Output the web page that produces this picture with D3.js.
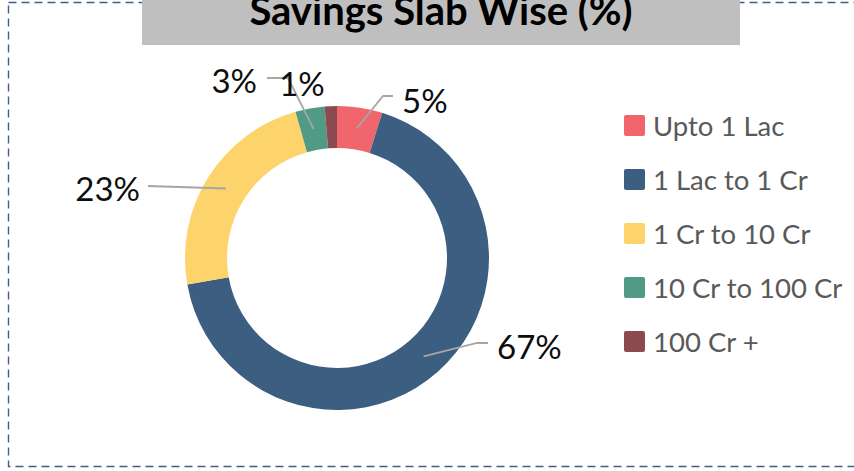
<!DOCTYPE html>
<html>
<head>
<meta charset="utf-8">
<script src="https://cdn.jsdelivr.net/npm/d3@7"></script>
<style>
  body { margin: 0; background: #fff; }
  svg { display: block; }
</style>
</head>
<body>
<div id="chart"></div>
<script>
// data
const categories = ['Upto 1 Lac', '1 Lac to 1 Cr', '1 Cr to 10 Cr', '10 Cr to 100 Cr', '100 Cr +'];
const values = [4.8, 67.4, 23.4, 3.1, 1.3];
const colors = ['#F1666D', '#3B5E81', '#FDD36B', '#519A86', '#8B4A4F'];
const titleText = 'Savings Slab Wise (%)';

const width = 854, height = 471;
const cx = 337, cy = 258;
const outerR = 152, innerR = 110;

// label layout, relative to the donut centre: text pos, anchor, elbow, line end
const labelLayout = [
  {tx: 65, ty: -158, anchor: 'start', elbow: [46, -162], end: [56, -162]},
  {tx: 160, ty: 88, anchor: 'start', elbow: [140, 85], end: [151, 85]},
  {tx: -197, ty: -70, anchor: 'end', elbow: null, end: [-189, -72]},
  {tx: -80, ty: -178, anchor: 'end', elbow: [-49, -180], end: [-70, -180]},
  {tx: -35, ty: -175, anchor: 'middle', elbow: null, end: null}
];

const svg = d3.select('#chart').append('svg')
  .attr('width', width)
  .attr('height', height);

// dashed frame
svg.append('rect')
  .attr('x', 8.5).attr('y', 2.5)
  .attr('width', 900).attr('height', 464)
  .style('fill', 'none')
  .style('stroke', '#3E6088')
  .style('stroke-width', 1.4)
  .style('stroke-dasharray', '8,5');

// title box
svg.append('rect')
  .attr('x', 142).attr('y', -5)
  .attr('width', 598).attr('height', 50)
  .style('fill', '#BFBFBF');

svg.append('text')
  .attr('x', 441).attr('y', 25)
  .attr('text-anchor', 'middle')
  .style('font-family', 'Lato, "Open Sans", sans-serif')
  .style('font-weight', 'bold')
  .style('font-size', '40px')
  .style('fill', '#000')
  .text(titleText);

const pie = d3.pie().sort(null).value(d => d);
const arcs = pie(values);

const arc = d3.arc().innerRadius(innerR).outerRadius(outerR);
const midArc = d3.arc().innerRadius(131).outerRadius(131);

const g = svg.append('g')
  .attr('transform', `translate(${cx},${cy})`);

g.selectAll('path.slice')
  .data(arcs)
  .enter()
  .append('path')
  .attr('class', 'slice')
  .attr('d', arc)
  .style('fill', (d, i) => colors[i]);

// leader lines
g.selectAll('polyline.leader')
  .data(arcs.filter((d, i) => labelLayout[i].end))
  .enter()
  .append('polyline')
  .attr('class', 'leader')
  .attr('points', d => {
    const L = labelLayout[d.index];
    const pts = [midArc.centroid(d)];
    if (L.elbow) pts.push(L.elbow);
    pts.push(L.end);
    return pts.map(p => p.join(',')).join(' ');
  })
  .style('fill', 'none')
  .style('stroke', '#A6A6A6')
  .style('stroke-width', 1.8);

const fmt = d3.format('.0f');
g.selectAll('text.label')
  .data(arcs)
  .enter()
  .append('text')
  .attr('class', 'label')
  .attr('x', (d, i) => labelLayout[i].tx)
  .attr('y', (d, i) => labelLayout[i].ty)
  .attr('text-anchor', (d, i) => labelLayout[i].anchor)
  .attr('dominant-baseline', 'central')
  .style('font-family', 'Lato, "Open Sans", sans-serif')
  .style('font-size', '33px')
  .style('fill', '#0D0D0D')
  .text(d => fmt(d.data) + '%');

// legend
const legend = svg.append('g')
  .attr('transform', 'translate(624,125.5)');

const item = legend.selectAll('g.item')
  .data(categories)
  .enter()
  .append('g')
  .attr('class', 'item')
  .attr('transform', (d, i) => `translate(0,${i * 54})`);

item.append('rect')
  .attr('x', 0).attr('y', -10.5)
  .attr('width', 21).attr('height', 21)
  .attr('rx', 2)
  .style('fill', (d, i) => colors[i]);

item.append('text')
  .attr('x', 29).attr('y', 0)
  .attr('dominant-baseline', 'central')
  .style('font-family', 'Lato, "Open Sans", sans-serif')
  .style('font-size', '27.5px')
  .style('fill', '#595959')
  .text(d => d);
</script>
</body>
</html>
